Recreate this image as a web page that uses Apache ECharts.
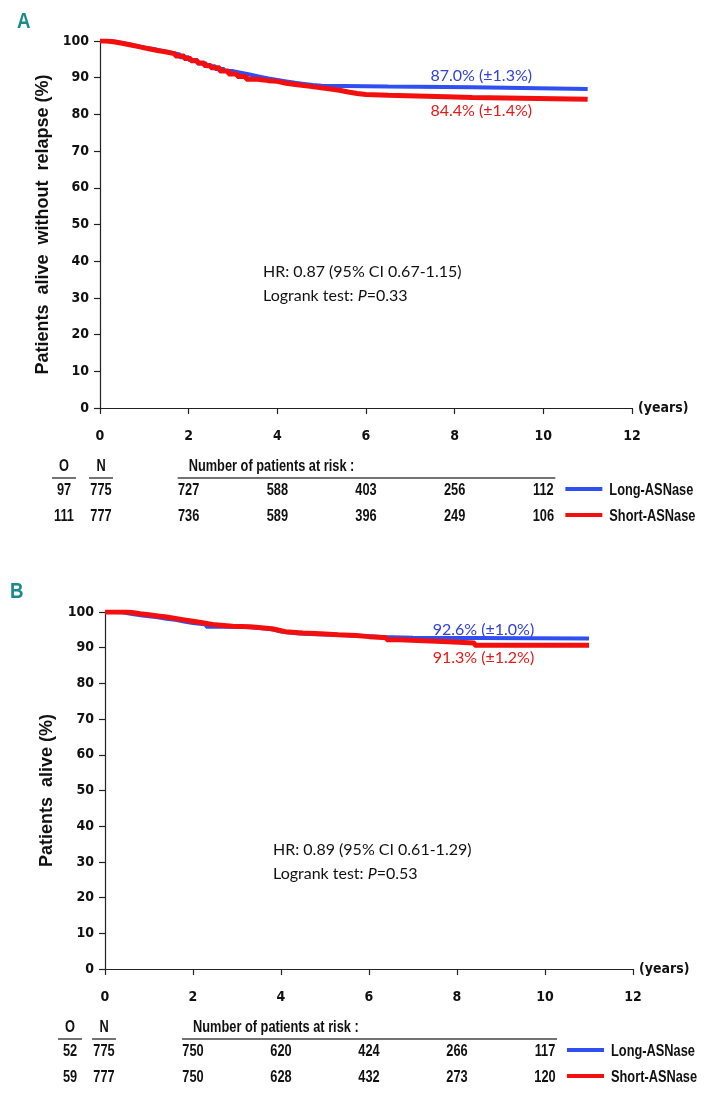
<!DOCTYPE html>
<html>
<head>
<meta charset="utf-8">
<script src="https://cdn.jsdelivr.net/npm/echarts@6/dist/echarts.min.js"></script>
<style>
  html, body { margin: 0; padding: 0; background: #fff; }
  #chart { width: 707px; height: 1103px; }
</style>
</head>
<body>
<div id="chart"></div>
<script>
// Kaplan-Meier step points [years, %]
const longA = [[0, 100], [0.2, 99.7], [0.4, 99.2], [0.6, 98.7], [0.8, 98.2], [1.0, 97.8], [1.2, 97.3], [1.4, 96.8], [1.6, 96.3], [1.8, 95.6], [2.0, 94.8], [2.2, 93.9], [2.4, 93.1], [2.6, 92.4], [2.8, 91.8], [3.0, 91.3], [3.2, 90.8], [3.4, 90.3], [3.6, 89.8], [3.8, 89.4], [4.0, 89.0], [4.2, 88.6], [4.4, 88.3], [4.6, 88.0], [4.8, 87.8], [5.0, 87.6], [6.5, 87.4], [8.4, 86.9], [11.0, 86.9]]
const shortA = [[0, 100], [0.15, 99.8], [0.3, 99.4], [0.5, 98.9], [0.7, 98.4], [0.9, 97.9], [1.1, 97.4], [1.3, 97.0], [1.5, 96.5], [1.7, 95.9], [1.9, 95.2], [2.05, 94.6], [2.2, 94.0], [2.35, 93.3], [2.5, 92.7], [2.7, 91.8], [2.9, 91.0], [3.1, 90.3], [3.3, 89.6], [3.55, 89.2], [3.8, 89.0], [4.0, 88.5], [4.2, 88.1], [4.45, 87.7], [4.7, 87.3], [4.95, 86.9], [5.2, 86.6], [5.4, 86.1], [5.6, 85.7], [5.8, 85.4], [6.0, 85.2], [6.5, 84.8], [7.8, 84.6], [8.4, 84.1], [11.0, 84.1]]
const longB = [[0, 100], [0.2, 99.9], [0.4, 99.6], [0.55, 99.3], [0.7, 99.0], [0.85, 98.8], [1.0, 98.5], [1.2, 98.1], [1.4, 97.8], [1.6, 97.3], [1.8, 96.9], [2.0, 96.5], [2.3, 95.9], [2.7, 95.8], [3.2, 95.6], [3.45, 95.3], [3.7, 95.0], [3.85, 94.5], [4.0, 94.0], [4.4, 93.8], [4.8, 93.6], [5.2, 93.4], [5.6, 93.2], [6.0, 93.0], [6.3, 92.8], [7.0, 92.6], [11.0, 92.6]]
const shortB = [[0, 100], [0.5, 99.8], [0.65, 99.5], [0.8, 99.2], [1.0, 98.9], [1.2, 98.6], [1.4, 98.2], [1.6, 97.8], [1.8, 97.4], [2.0, 96.9], [2.25, 96.4], [2.5, 96.0], [2.9, 95.9], [3.3, 95.6], [3.55, 95.3], [3.8, 94.9], [3.95, 94.5], [4.1, 94.1], [4.5, 93.9], [4.9, 93.6], [5.3, 93.4], [5.7, 93.1], [6.0, 92.8], [6.4, 92.2], [6.7, 92.0], [7.1, 91.7], [7.8, 91.3], [8.4, 90.7], [11.0, 90.7]]

// numbers at risk
const riskYears = [2, 4, 6, 8, 10]
const riskLongA = [727, 588, 403, 256, 112]
const riskShortA = [736, 589, 396, 249, 106]
const riskLongB = [750, 620, 424, 266, 117]
const riskShortB = [750, 628, 432, 273, 120]
const obsA = [97, 111]
const obsB = [52, 59]
const nTot = [775, 777]

const finalA = ['87.0% (±1.3%)', '84.4% (±1.4%)']
const finalB = ['92.6% (±1.0%)', '91.3% (±1.2%)']

const BLUE = '#2f4ff0'
const RED = '#f40f0f'
const cond = '"DejaVu Sans Condensed", "Liberation Sans", sans-serif'
const arial = '"Liberation Sans", Arial, sans-serif'
const calib = 'Lato, "Open Sans", sans-serif'

function xAx (grid) {
  return {
    type: 'value', gridIndex: grid, min: 0, max: 12, interval: 2,
    name: '(years)', nameLocation: 'end', nameGap: 6,
    nameTextStyle: { fontFamily: cond, fontWeight: 'bold', fontSize: 14, color: '#111' },
    axisLine: { onZero: false, lineStyle: { color: '#222', width: 1.2 } },
    axisTick: { length: 6, lineStyle: { color: '#222', width: 1.2 } },
    axisLabel: { margin: 21, fontFamily: cond, fontWeight: 'bold', fontSize: 14, color: '#111' },
    splitLine: { show: false }
  }
}
function yAx (grid, title, gap) {
  return {
    type: 'value', gridIndex: grid, min: 0, max: 100, interval: 10,
    name: title, nameLocation: 'middle', nameGap: gap, nameRotate: 90,
    nameTextStyle: { fontFamily: arial, fontWeight: 'bold', fontSize: 18, color: '#111' },
    axisLine: { show: true, lineStyle: { color: '#222', width: 1.2 } },
    axisTick: { show: true, length: 6, lineStyle: { color: '#222', width: 1.2 } },
    axisLabel: { margin: 11, fontFamily: cond, fontWeight: 'bold', fontSize: 14, color: '#111' },
    splitLine: { show: false }
  }
}
function km (data, color, width, idx, z) {
  return {
    type: 'line', step: 'end', data: data, xAxisIndex: idx, yAxisIndex: idx,
    symbol: 'none', z: z, lineStyle: { color: color, width: width }
  }
}

let chart = echarts.init(document.getElementById('chart'))
chart.setOption({
  animation: false,
  backgroundColor: '#fff',
  grid: [
    { left: 100, top: 41, width: 532, height: 367 },
    { left: 105, top: 612, width: 528, height: 357 }
  ],
  xAxis: [xAx(0), xAx(1)],
  yAxis: [yAx(0, 'Patients  alive  without  relapse (%)', 46), yAx(1, 'Patients  alive (%)', 49)],
  series: [
    km(longA, BLUE, 4, 0, 2),
    km(shortA, RED, 5, 0, 3),
    km(longB, BLUE, 4, 1, 2),
    km(shortB, RED, 5, 1, 3)
  ]
})

// text overlays placed through the axes' own scales
let g = []
function txt (x, y, s, style, sx) {
  g.push({ type: 'text', x: x, y: y, scaleX: sx || 1, style: Object.assign({ text: s, fill: '#111' }, style) })
}
const tbl = { fontFamily: arial, fontWeight: 'bold', fontSize: 16, textAlign: 'center', textVerticalAlign: 'middle' }
const SQ = 0.8 // squeeze to mimic a narrow bold face

function panel (idx, label, labelPos, fin, finOff, longs, shorts, obs, hr, logp, hrPos, oX, nX) {
  const P = (t, v) => chart.convertToPixel({ xAxisIndex: idx, yAxisIndex: idx }, [t, v])
  txt(labelPos[0], labelPos[1], label, { fontFamily: arial, fontWeight: 'bold', fontSize: 22, fill: '#1a8a8a', textVerticalAlign: 'middle' }, 0.85)

  // final survival labels above/below the curve ends
  const lastL = (idx === 0 ? longA : longB).slice(-1)[0]
  const lastS = (idx === 0 ? shortA : shortB).slice(-1)[0]
  const pL = P(8.6, lastL[1])
  const pS = P(8.6, lastS[1])
  txt(pL[0], pL[1] + finOff[0], fin[0], { fontFamily: calib, fontSize: 16, fill: '#3040d8', textAlign: 'center', textVerticalAlign: 'middle' })
  txt(pS[0], pS[1] + finOff[1], fin[1], { fontFamily: calib, fontSize: 16, fill: '#e81818', textAlign: 'center', textVerticalAlign: 'middle' })

  // HR / logrank, two lines 24px apart centred on hrPos[1] and hrPos[1] + 24
  txt(hrPos[0], hrPos[1], hr, { fontFamily: calib, fontSize: 16, textVerticalAlign: 'middle' })
  g.push({
    type: 'text', x: hrPos[0], y: hrPos[1] + 24,
    style: {
      text: '{n|Logrank test: }{i|P}{n|=' + logp + '}',
      fontFamily: calib, fontSize: 16, fill: '#111', textVerticalAlign: 'middle',
      rich: {
        n: { fontFamily: calib, fontSize: 16, fill: '#111' },
        i: { fontFamily: calib, fontSize: 16, fontStyle: 'italic', fill: '#111' }
      }
    }
  })

  // number at risk table
  const y0 = P(0, 0)[1]
  const hdrY = y0 + 59
  const lineY = y0 + 70
  const rowY = [y0 + 83, y0 + 109]
  txt(oX, hdrY, 'O', tbl, SQ)
  txt(nX, hdrY, 'N', tbl, SQ)
  g.push({ type: 'line', shape: { x1: oX - 12, y1: lineY, x2: oX + 12, y2: lineY }, style: { stroke: '#444', lineWidth: 1.5 } })
  g.push({ type: 'line', shape: { x1: nX - 12, y1: lineY, x2: nX + 12, y2: lineY }, style: { stroke: '#444', lineWidth: 1.5 } })
  const x2 = P(2, 0)[0]
  const x10 = P(10, 0)[0]
  txt(x2, hdrY, 'Number of patients at risk :', Object.assign({}, tbl, { textAlign: 'left' }), SQ)
  g.push({ type: 'line', shape: { x1: x2 - 11, y1: lineY, x2: x10 + 12, y2: lineY }, style: { stroke: '#444', lineWidth: 1.5 } })
  const rows = [longs, shorts]
  const names = ['Long-ASNase', 'Short-ASNase']
  const cols = [BLUE, RED]
  for (let r = 0; r < 2; r++) {
    txt(oX, rowY[r], String(obs[r]), tbl, SQ)
    txt(nX, rowY[r], String(nTot[r]), tbl, SQ)
    riskYears.forEach((t, i) => {
      txt(P(t, 0)[0], rowY[r], String(rows[r][i]), tbl, SQ)
    })
    g.push({ type: 'line', shape: { x1: x10 + 22, y1: rowY[r] - 2, x2: x10 + 59, y2: rowY[r] - 2 }, style: { stroke: cols[r], lineWidth: 4 } })
    txt(x10 + 66, rowY[r], names[r], Object.assign({}, tbl, { textAlign: 'left' }), SQ)
  }
}

panel(0, 'A', [17, 22], finalA, [-13, 11], riskLongA, riskShortA, obsA, 'HR: 0.87 (95% CI 0.67-1.15)', '0.33', [263, 272], 64, 101)
panel(1, 'B', [10, 592], finalB, [-9, 13], riskLongB, riskShortB, obsB, 'HR: 0.89 (95% CI 0.61-1.29)', '0.53', [273, 850], 70, 104)

chart.setOption({ graphic: g })
</script>
</body>
</html>
